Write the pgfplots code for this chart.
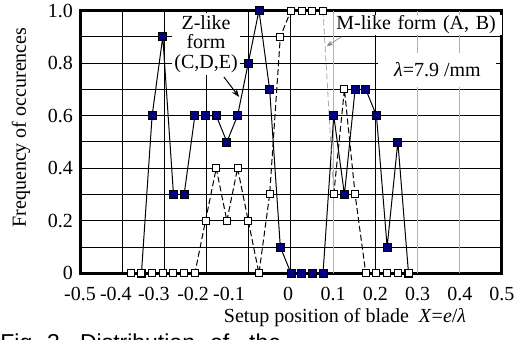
\documentclass[border=0pt]{standalone}
\usepackage{pgfplots}
\usepackage{pgfplotstable}
\pgfplotsset{compat=1.18}
\usepackage{fontspec}
\setmainfont{Liberation Serif}
\newfontfamily\capfont{Liberation Sans}
\usetikzlibrary{arrows.meta}
\definecolor{navyfill}{RGB}{0,0,128}

% Z-like form (C,D,E): filled squares
\pgfplotstableread{
x y
-0.3544 0
-0.3291 0.6
-0.3038 0.9
-0.2785 0.3
-0.2532 0.3
-0.2278 0.6
-0.2025 0.6
-0.1772 0.6
-0.1519 0.5
-0.1266 0.6
-0.1013 0.8
-0.0759 1.0
-0.0506 0.7
-0.0253 0.1
0 0
0.0253 0
0.0506 0
0.0759 0
0.1013 0.6
0.1266 0.3
0.1519 0.7
0.1772 0.7
0.2025 0.6
0.2278 0.1
0.2532 0.5
0.2785 0
}\zdata

% M-like form (A,B): open squares
\pgfplotstableread{
x y
-0.3797 0
-0.3544 0
-0.3291 0
-0.3038 0
-0.2785 0
-0.2532 0
-0.2278 0
-0.2025 0.2
-0.1772 0.4
-0.1519 0.2
-0.1266 0.4
-0.1013 0.2
-0.0759 0
-0.0506 0.3
-0.0253 0.9
0 1.0
0.0253 1.0
0.0506 1.0
0.0759 1.0
0.1013 0.3
0.1266 0.7
0.1519 0.3
0.1772 0
0.2025 0
0.2278 0
0.2532 0
0.2785 0
}\mdata

\begin{document}
\begin{tikzpicture}[font=\fontsize{10}{12}\selectfont]
\begin{axis}[
  at={(40pt,32.85pt)}, anchor=south west,
  scale only axis, width=211pt, height=131.4pt,
  xmin=-0.5, xmax=0.5, ymin=0, ymax=1,
  clip=false,
  axis line style={line width=1.5pt},
  xtick={-0.5,-0.415,-0.325,-0.232,-0.147,-0.007,0.1,0.2,0.3,0.4,0.5},
  xticklabels={-0.5,-0.4,-0.3,-0.2,-0.1,0,0.1,0.2,0.3,0.4,0.5},
  minor xtick={-0.4,-0.3,-0.2,-0.1,0,0.2},
  extra x ticks={0.1,0.3,0.4},
  extra x tick labels={,,},
  extra x tick style={xmajorgrids=true, major grid style={gray!60, line width=0.5pt}},
  ytick={0,0.2,0.4,0.6,0.8,1.0},
  yticklabels={0,0.2,0.4,0.6,0.8,1.0},
  minor ytick={0.1,0.3,0.5,0.7,0.9},
  xmajorgrids=false, xminorgrids=true,
  ymajorgrids=true, yminorgrids=true,
  major grid style={black, line width=0.5pt},
  minor grid style={black, line width=0.5pt},
  major tick length=0pt, minor tick length=0pt,
  tick label style={font=\fontsize{10}{12}\selectfont},
  xticklabel style={yshift=-3.5pt},
]
\addplot[black, line width=0.5pt, mark=square*, mark size=2pt,
  mark options={solid, fill=navyfill, draw=black, line width=0.4pt}]
  table[x=x,y=y] {\zdata};
\addplot[gray!70, line width=0.4pt, dash pattern=on 3pt off 1.5pt, no marks,
  restrict x to domain=0.07:0.11]
  table[x=x,y=y] {\mdata};
\addplot[black, line width=0.5pt, dash pattern=on 3pt off 1.5pt, mark=square*, mark size=1.75pt,
  mark options={solid, fill=white, draw=black, line width=0.5pt},
  restrict x to domain=-0.4:0.08]
  table[x=x,y=y] {\mdata};
\addplot[black, line width=0.5pt, dash pattern=on 3pt off 1.5pt, mark=square*, mark size=1.75pt,
  mark options={solid, fill=white, draw=black, line width=0.5pt},
  restrict x to domain=0.09:0.3]
  table[x=x,y=y] {\mdata};

\node[fill=white, align=center, inner sep=1pt, font=\fontsize{10}{9.8}\selectfont]
  at (axis cs:-0.2014,0.8725) {Z-like\\form\\(C,D,E)};
\draw[-{Stealth[length=4pt,width=3pt]}, line width=0.5pt]
  (axis cs:-0.159,0.747) -- (axis cs:-0.123,0.671);
\node[fill=white, anchor=west, inner xsep=1pt, inner ysep=0.5pt, text width=82pt, align=left]
  at (axis cs:0.102,0.945) {M-like form (A, B)};
\draw[-{Stealth[length=3pt,width=2.5pt]}, gray, line width=0.3pt]
  (axis cs:0.12,0.9) -- (axis cs:0.085,0.865);
\node[fill=white, minimum width=59pt, minimum height=17pt, inner sep=0pt]
  at (axis cs:0.347,0.774) {\textit{λ}=7.9 /mm};
\end{axis}
\node[rotate=90] at (10.5pt,105.75pt) {Frequency of occurences};
\node at (172.5pt,10.5pt) {Setup position of blade\ \ \textit{X}=\textit{e}/\textit{λ}};
\begin{scope}
\clip (0,0) rectangle (263pt,169.5pt);
\node[anchor=base west, inner sep=0pt, font=\capfont\fontsize{11.5}{14}\selectfont]
  at (0pt,-5.75pt) {Fig. 3\hspace*{10pt}Distribution\hspace*{7.5pt}of\hspace*{10pt}the};
\end{scope}
\pgfresetboundingbox
\useasboundingbox (0,0) rectangle (263pt,169.5pt);
\end{tikzpicture}
\end{document}
